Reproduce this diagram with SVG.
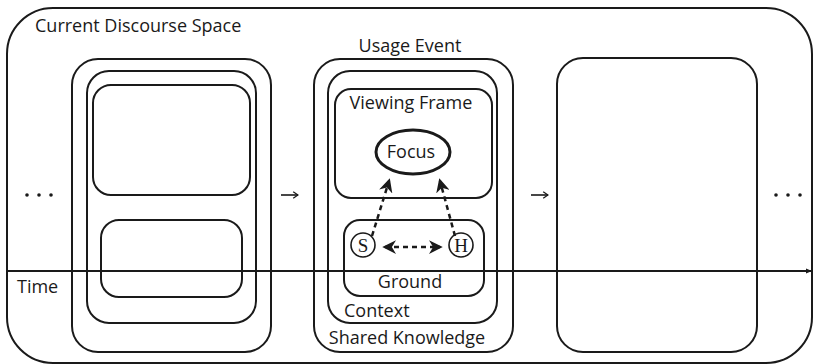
<svg xmlns="http://www.w3.org/2000/svg" width="813" height="364" viewBox="0 0 813 364">
  <style>
    .box { fill: none; stroke: #1a1a1a; stroke-width: 2; }
    .lbl { font-family: "Open Sans", "Liberation Sans", sans-serif; font-size: 18px; fill: #1a1a1a; }
    .mid { text-anchor: middle; }
    .dash { fill: none; stroke: #1a1a1a; stroke-width: 2.5; stroke-dasharray: 5 4; }
    .line { fill: none; stroke: #1a1a1a; stroke-width: 1.6; }
    .dot { fill: #1a1a1a; }
  </style>
  <defs>
    <marker id="tip" viewBox="0 0 10 10" refX="8" refY="5" markerWidth="5.5" markerHeight="5.5" orient="auto-start-reverse" markerUnits="strokeWidth">
      <path d="M0,0 L10,5 L0,10 L3,5 Z" fill="#1a1a1a"/>
    </marker>
    <marker id="open" viewBox="0 0 10 10" refX="9" refY="5" markerWidth="8" markerHeight="8" orient="auto" markerUnits="userSpaceOnUse">
      <path d="M3,1 L9,5 L3,9" fill="none" stroke="#1a1a1a" stroke-width="1.6"/>
    </marker>
    <marker id="time" viewBox="0 0 10 10" refX="10" refY="5" markerWidth="6" markerHeight="6" orient="auto" markerUnits="userSpaceOnUse">
      <path d="M0,1 L10,5 L0,9 Z" fill="#1a1a1a"/>
    </marker>
  </defs>

  <!-- discourse space frame -->
  <g id="discourse-space">
    <rect class="box" x="7" y="8" width="805" height="355" rx="46"/>
    <text class="lbl" x="35" y="32">Current Discourse Space</text>
  </g>

  <!-- previous usage event -->
  <g id="previous-event">
    <rect class="box" x="72" y="59" width="199" height="293" rx="26"/>
    <rect class="box" x="87" y="71" width="169" height="252" rx="22"/>
    <rect class="box" x="93" y="85" width="157" height="110" rx="18"/>
    <rect class="box" x="101" y="220" width="141" height="77" rx="18"/>
  </g>

  <!-- current usage event -->
  <g id="usage-event">
    <rect class="box" x="314" y="59" width="199" height="293" rx="26"/>
    <text class="lbl mid" x="410" y="52">Usage Event</text>
    <text class="lbl mid" x="407" y="344">Shared Knowledge</text>
  </g>
  <g id="context">
    <rect class="box" x="328" y="71" width="169" height="252" rx="22"/>
    <text class="lbl" x="344" y="317">Context</text>
  </g>
  <g id="viewing-frame">
    <rect class="box" x="335" y="89" width="157" height="109" rx="16"/>
    <text class="lbl mid" x="411" y="109">Viewing Frame</text>
  </g>
  <g id="focus">
    <ellipse cx="413" cy="152" rx="37" ry="22" fill="none" stroke="#1a1a1a" stroke-width="3"/>
    <text class="lbl mid" x="411" y="158">Focus</text>
  </g>
  <g id="ground">
    <rect class="box" x="344" y="220" width="140" height="76" rx="16"/>
    <text class="lbl mid" x="410" y="288">Ground</text>
  </g>
  <g id="speaker">
    <circle cx="363" cy="245" r="12" fill="#fff" stroke="#1a1a1a" stroke-width="1.6"/>
    <text x="363" y="252" text-anchor="middle" font-family="Liberation Serif, serif" font-size="19" fill="#1a1a1a">S</text>
  </g>
  <g id="hearer">
    <circle cx="461" cy="245" r="12" fill="#fff" stroke="#1a1a1a" stroke-width="1.6"/>
    <text x="461" y="252" text-anchor="middle" font-family="Liberation Serif, serif" font-size="19" fill="#1a1a1a">H</text>
  </g>

  <!-- next usage event -->
  <g id="next-event">
    <rect class="box" x="557" y="58" width="200" height="294" rx="26"/>
  </g>

  <!-- continuation marks -->
  <g id="ellipsis-left">
    <circle class="dot" cx="27" cy="195" r="1.8"/>
    <circle class="dot" cx="39" cy="195" r="1.8"/>
    <circle class="dot" cx="51" cy="195" r="1.8"/>
  </g>
  <g id="ellipsis-right">
    <circle class="dot" cx="776" cy="195" r="1.8"/>
    <circle class="dot" cx="788" cy="195" r="1.8"/>
    <circle class="dot" cx="800" cy="195" r="1.8"/>
  </g>

  <!-- time axis -->
  <g id="time-axis">
    <line x1="7" y1="271" x2="812" y2="271" stroke="#1a1a1a" stroke-width="1.8" marker-end="url(#time)"/>
    <text class="lbl" x="17" y="293">Time</text>
  </g>

  <!-- connectors -->
  <g id="connectors">
    <line class="line" x1="281" y1="195" x2="298" y2="195" marker-end="url(#open)"/>
    <line class="line" x1="531" y1="195" x2="548" y2="195" marker-end="url(#open)"/>
    <line class="dash" x1="372" y1="236" x2="389" y2="181" marker-end="url(#tip)"/>
    <line class="dash" x1="455" y1="236" x2="440" y2="181" marker-end="url(#tip)"/>
    <line class="dash" x1="385" y1="247" x2="440" y2="247" marker-start="url(#tip)" marker-end="url(#tip)"/>
  </g>
</svg>
